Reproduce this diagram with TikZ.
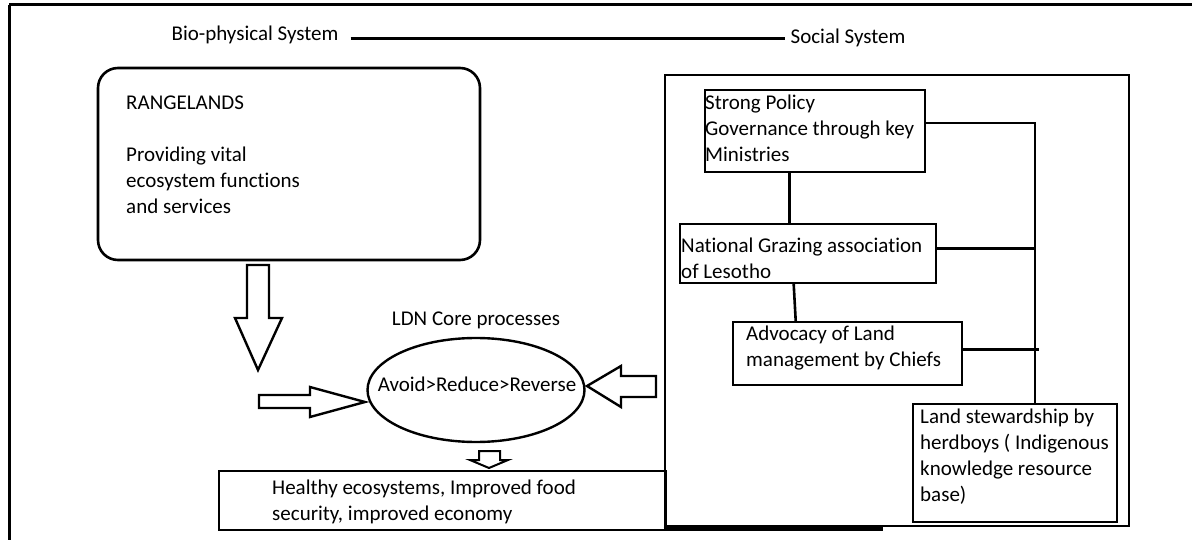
\documentclass[tikz,border=0pt]{standalone}
\usepackage{fontspec}
\setmainfont{Carlito}[Ligatures=NoCommon]
\usetikzlibrary{shapes.geometric,calc}
\begin{document}
\begin{tikzpicture}[x=1pt,y=-1pt,
  every node/.style={font=\fontsize{21}{26}\selectfont, inner sep=0pt},
  txt/.style={align=left, anchor=west},
  ln/.style={line width=2.6pt, line cap=rect},
  boxx/.style={draw, line width=2.6pt},
  blockarrow/.style={draw, line width=2.4pt, fill=white, line join=miter}]
\useasboundingbox (0,0) rectangle (1192,540);
% outer frame (top and left only)
\draw[line width=3pt] (9,5) -- (1192,5);
\draw[line width=3pt] (9,5) -- (9,540);
% header
\node (bio) at (255,35) {Bio-physical System};
\node (soc) at (848,38) {Social System};
\draw[line width=3pt] ($(bio.east)+(12,4)$) -- ($(soc.west)+(-5,1)$);
% rangelands
\node[draw, line width=2.6pt, rounded corners=20pt, minimum width=382pt, minimum height=192pt] (rl) at (289,164) {};
\node[txt] (rltext) at (126,155) {RANGELANDS\\[26pt]Providing vital\\ecosystem functions\\and services};
% block arrows
\draw[blockarrow] (247,265) -- (269,265) -- (269,318) -- (282,318) -- (258,370) -- (235,318) -- (247,318) -- cycle;
\draw[blockarrow] (259,395) -- (310,395) -- (310,387) -- (365,402) -- (310,417) -- (310,408) -- (259,408) -- cycle;
\draw[blockarrow] (656,376) -- (621,376) -- (621,366) -- (587,386) -- (621,407) -- (621,397) -- (656,397) -- cycle;
\draw[blockarrow, line width=2pt] (479,451) -- (500,451) -- (500,460) -- (508,460) -- (489,468) -- (470,460) -- (479,460) -- cycle;
% core
\node (ldn) at (476,320) {LDN Core processes};
\node[draw, ellipse, line width=2.4pt, minimum width=217pt, minimum height=104pt] (core) at (476,390) {};
\node (coretext) at (477,384) {Avoid>Reduce>Reverse};
% outcome
\node[draw, line width=2.6pt, minimum width=447pt, minimum height=59pt] (out) at (442.5,500.5) {};
\node[txt] (outtext) at (272,502) {Healthy ecosystems, Improved food\\security, improved economy};
% social system frame
\node[draw, line width=2.8pt, minimum width=464pt, minimum height=451pt] (sys) at (897,300.5) {};
\draw[line width=4pt] ($(sys.south west)+(0,2)$) -- ($(sys.south west)+(219,2)$);
% social boxes
\node[boxx, minimum width=220pt, minimum height=82pt] (sp) at (815,131) {};
\node[txt] (sptext) at (705,128) {Strong Policy\\Governance through key\\Ministries};
\node[boxx, minimum width=256pt, minimum height=59pt] (ng) at (808,253.5) {};
\node[txt] (ngtext) at (681,258) {National Grazing association\\of Lesotho};
\node[boxx, minimum width=229pt, minimum height=63pt] (adv) at (847.5,353.5) {};
\node[txt] (advtext) at (746,348) {Advocacy of Land\\management by Chiefs};
\node[boxx, minimum width=204pt, minimum height=118pt] (ls) at (1015,463) {};
\node[txt] (lstext) at (920,457) {Land stewardship by\\herdboys ( Indigenous\\knowledge resource\\base)};
% connectors
\coordinate (bustop) at (1035,123);
\draw[ln] ($(sp.south west)+(86,0)$) -- ($(ng.north west)+(111,0)$);
\draw[ln] ($(ng.south west)+(115,0)$) -- ($(adv.north west)+(64,0)$);
\draw[ln] ($(sp.east)+(0,-8)$) -- (bustop) -- (bustop |- ls.north);
\draw[ln] ($(ng.east)+(0,-5)$) -- ($(ng.east -| bustop)+(0,-5)$);
\draw[ln] ($(adv.east)+(0,-4)$) -- ($(adv.east -| bustop)+(3,-4)$);
\end{tikzpicture}
\end{document}
